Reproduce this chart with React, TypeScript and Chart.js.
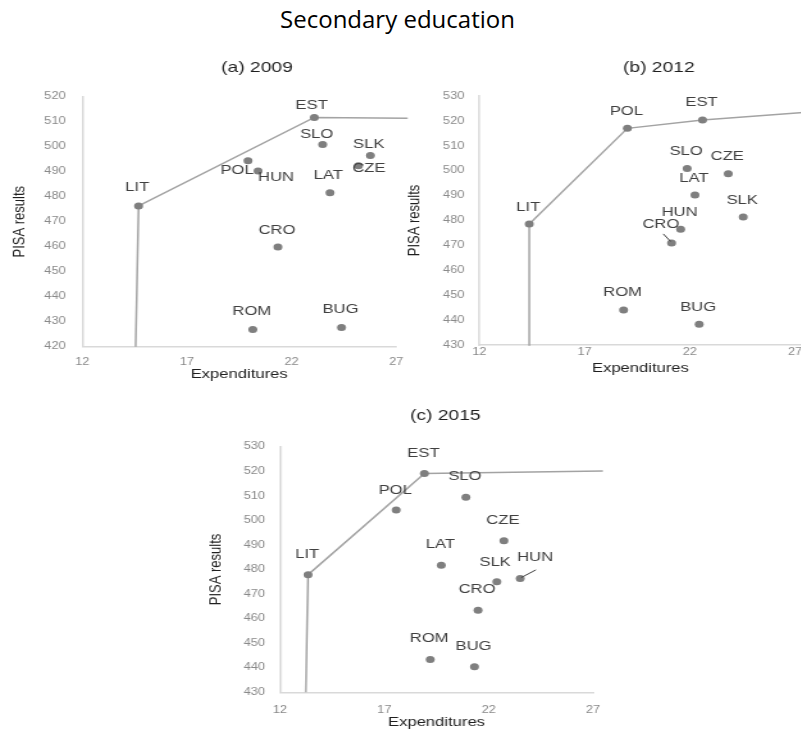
import React, { useEffect, useRef } from 'react';
import { Chart, registerables } from 'chart.js';

Chart.register(...registerables);

// ---------------- data ----------------
const mainTitle = 'Secondary education';
const xAxisTitle = 'Expenditures';
const yAxisTitle = 'PISA results';

const xTickValues = [12, 17, 22, 27];
const yTickValuesA = [420, 430, 440, 450, 460, 470, 480, 490, 500, 510, 520];
const yTickValuesBC = [430, 440, 450, 460, 470, 480, 490, 500, 510, 520, 530];

// (a) 2009
const countriesA = ['LIT', 'EST', 'SLO', 'SLK', 'CZE', 'POL', 'HUN', 'LAT', 'CRO', 'ROM', 'BUG'];
const expendA = [14.69, 23.09, 23.49, 25.77, 25.2, 19.92, 20.4, 23.84, 21.35, 20.15, 24.39];
const pisaA = [476.3, 511.7, 500.9, 496.5, 492.4, 494.4, 490.3, 481.6, 459.9, 426.9, 427.7];
const frontierExpA = [14.55, 14.69, 23.09, 27.55];
const frontierPisaA = [420, 476.3, 511.7, 511.4];

// (b) 2012
const countriesB = ['LIT', 'POL', 'EST', 'SLO', 'CZE', 'LAT', 'SLK', 'HUN', 'CRO', 'ROM', 'BUG'];
const expendB = [14.37, 19.03, 22.6, 21.87, 23.82, 22.24, 24.53, 21.56, 21.13, 18.85, 22.44];
const pisaB = [478.6, 517.0, 520.4, 500.9, 498.8, 490.2, 481.4, 476.5, 471.0, 444.1, 438.3];
const frontierExpB = [14.42, 14.37, 19.03, 22.6, 27.7];
const frontierPisaB = [430, 478.6, 517.0, 520.4, 523.6];

// (c) 2015
const countriesC = ['LIT', 'EST', 'POL', 'SLO', 'CZE', 'LAT', 'SLK', 'HUN', 'CRO', 'ROM', 'BUG'];
const expendC = [13.35, 18.92, 17.57, 20.91, 22.73, 19.73, 22.39, 23.51, 21.49, 19.2, 21.32];
const pisaC = [477.9, 519.1, 504.2, 509.4, 491.7, 481.7, 475.0, 476.3, 463.4, 443.4, 440.4];
const frontierExpC = [13.24, 13.35, 18.92, 27.47];
const frontierPisaC = [430, 477.9, 519.1, 520.1];

// ---------------- styling / layout ----------------
const SX = 1.28; // horizontal stretch of the original figure
const FONT = '"Liberation Sans", Arial, sans-serif';
const POINT_COLOR = '#7f7f7f';
const LINE_COLOR = '#a3a3a3';
const AXIS_COLOR = '#d9d9d9';
const TICK_COLOR = '#8a8a8a';
const TEXT_COLOR = '#404040';
const TITLE_COLOR = '#1f1f1f';

type Panel = {
  title: string;
  countries: string[];
  xs: number[];
  ys: number[];
  fx: number[];
  fy: number[];
  yTicks: number[];
  left: number;
  top: number;
  w: number;
  h: number;
  padTop: number;
  padRight: number;
  yW: number;
  xH: number;
  yMin: number;
  yMax: number;
  xMax: number;
  yTickPad: number;
  xTickPad: number;
  yTitlePad: number;
  titleX: number;
  titleY: number;
  labelDefault: [number, number];
  labelOffsets: Record<string, [number, number]>;
  leaders: Record<string, [number, number, number, number]>;
};

const panels: Panel[] = [
  {
    title: '(a) 2009',
    countries: countriesA, xs: expendA, ys: pisaA, fx: frontierExpA, fy: frontierPisaA, yTicks: yTickValuesA,
    left: 0, top: 60, w: 325, h: 322, padTop: 36.7, padRight: 13.8, yW: 64.3, xH: 35.3,
    yMin: 420, yMax: 520, xMax: 27, yTickPad: 13, xTickPad: 10, yTitlePad: 7.8,
    titleX: 200.8, titleY: 8,
    labelDefault: [-1, -18],
    labelOffsets: {
      EST: [-2.7, -12],
      SLO: [-6, -10],
      SLK: [-1.6, -11],
      CZE: [10.5, 3],
      POL: [-11, 10],
      HUN: [18, 6.7],
      LAT: [-1.7, -17.7],
      CRO: [-1, -17],
      LIT: [-1.3, -18.7],
    },
    leaders: {},
  },
  {
    title: '(b) 2012',
    countries: countriesB, xs: expendB, ys: pisaB, fx: frontierExpB, fy: frontierPisaB, yTicks: yTickValuesBC,
    left: 400, top: 60, w: 322, h: 316, padTop: 36, padRight: 8.2, yW: 62.0, xH: 31,
    yMin: 430, yMax: 530, xMax: 27.3, yTickPad: 11.7, xTickPad: 1.7, yTitlePad: 3.9,
    titleX: 202.3, titleY: 8.3,
    labelDefault: [-1, -17],
    labelOffsets: {
      CRO: [-10.7, -18],
    },
    leaders: {
      CRO: [-8.3, -9, -1, -1.5],
    },
  },
  {
    title: '(c) 2015',
    countries: countriesC, xs: expendC, ys: pisaC, fx: frontierExpC, fy: frontierPisaC, yTicks: yTickValuesBC,
    left: 190, top: 400, w: 333, h: 330, padTop: 46.7, padRight: 11.4, yW: 70.3, xH: 37.7,
    yMin: 430, yMax: 530, xMax: 27, yTickPad: 11.7, xTickPad: 12.4, yTitlePad: 12.5,
    titleX: 199.6, titleY: 16,
    labelDefault: [-1, -20.5],
    labelOffsets: {
      HUN: [15, -21],
      POL: [-1, -19.3],
      SLK: [-1.7, -19.3],
    },
    leaders: {
      HUN: [1, -1, 15.7, -8.7],
    },
  },
];

function makeLabelPlugin(p: Panel) {
  return {
    id: 'pointLabels',
    afterDatasetsDraw(chart: any) {
      const ctx = chart.ctx as CanvasRenderingContext2D;
      const meta = chart.getDatasetMeta(0);
      ctx.save();
      // leaders
      ctx.strokeStyle = TEXT_COLOR;
      ctx.lineWidth = 1;
      p.countries.forEach((c, i) => {
        const el = meta.data[i];
        if (!el) return;
        const ld = p.leaders[c];
        if (ld) {
          ctx.beginPath();
          ctx.moveTo(el.x + ld[0] / SX, el.y + ld[1]);
          ctx.lineTo(el.x + ld[2] / SX, el.y + ld[3]);
          ctx.stroke();
        }
      });
      // labels
      ctx.font = `13px ${FONT}`;
      ctx.fillStyle = TEXT_COLOR;
      ctx.textAlign = 'center';
      ctx.textBaseline = 'middle';
      p.countries.forEach((c, i) => {
        const el = meta.data[i];
        if (!el) return;
        const off = p.labelOffsets[c] || p.labelDefault;
        ctx.fillText(c, el.x + off[0] / SX, el.y + off[1]);
      });
      // panel title
      ctx.font = `15px ${FONT}`;
      ctx.fillStyle = TITLE_COLOR;
      ctx.fillText(p.title, p.titleX, p.titleY);
      ctx.restore();
    },
  };
}

function buildConfig(p: Panel): any {
  const points = p.xs.map((x, i) => ({ x, y: p.ys[i] }));
  const frontier = p.fx.map((x, i) => ({ x, y: p.fy[i] }));
  return {
    type: 'scatter',
    data: {
      datasets: [
        {
          label: 'countries',
          data: points,
          backgroundColor: POINT_COLOR,
          borderColor: POINT_COLOR,
          borderWidth: 0,
          pointRadius: 3.5,
          pointHoverRadius: 3.5,
        },
        {
          label: 'frontier',
          data: frontier,
          showLine: true,
          borderColor: LINE_COLOR,
          backgroundColor: LINE_COLOR,
          borderWidth: 1.5,
          pointRadius: 0,
          pointHoverRadius: 0,
          tension: 0,
          fill: false,
          clip: false,
        },
      ],
    },
    options: {
      responsive: false,
      animation: false,
      devicePixelRatio: 1,
      events: [],
      layout: { padding: { top: p.padTop, right: p.padRight, bottom: 0, left: 0 } },
      plugins: {
        legend: { display: false },
        tooltip: { enabled: false },
        title: { display: false },
      },
      scales: {
        x: {
          type: 'linear',
          position: 'bottom',
          min: 12,
          max: p.xMax,
          afterBuildTicks: (s: any) => {
            s.ticks = xTickValues.map((v) => ({ value: v }));
          },
          ticks: {
            padding: p.xTickPad,
            color: TICK_COLOR,
            font: { family: FONT, size: 10 },
            maxRotation: 0,
            autoSkip: false,
          },
          grid: { display: false, drawTicks: false },
          border: { display: true, color: AXIS_COLOR, width: 1.5 },
          title: {
            display: true,
            text: xAxisTitle,
            color: TITLE_COLOR,
            font: { family: FONT, size: 13 },
            padding: { top: 0, bottom: 0 },
          },
          afterFit: (s: any) => {
            s.height = p.xH;
          },
        },
        y: {
          type: 'linear',
          position: 'left',
          min: p.yMin,
          max: p.yMax,
          afterBuildTicks: (s: any) => {
            s.ticks = p.yTicks.map((v) => ({ value: v }));
          },
          ticks: {
            padding: p.yTickPad,
            color: TICK_COLOR,
            font: { family: FONT, size: 10 },
            autoSkip: false,
          },
          grid: { display: false, drawTicks: false },
          border: { display: true, color: AXIS_COLOR, width: 1.5 },
          title: {
            display: true,
            text: yAxisTitle,
            color: TITLE_COLOR,
            font: { family: FONT, size: 13 },
            padding: { top: p.yTitlePad, bottom: 0 },
          },
          afterFit: (s: any) => {
            s.width = p.yW;
          },
        },
      },
    },
    plugins: [makeLabelPlugin(p)],
  };
}

function PanelChart({ p }: { p: Panel }) {
  const ref = useRef<HTMLCanvasElement>(null);
  useEffect(() => {
    if (!ref.current) return;
    const chart = new Chart(ref.current, buildConfig(p));
    return () => chart.destroy();
  }, [p]);
  return (
    <canvas
      ref={ref}
      width={p.w}
      height={p.h}
      style={{
        position: 'absolute',
        left: p.left,
        top: p.top,
        width: `${p.w * SX}px`,
        height: `${p.h}px`,
      }}
    />
  );
}

export default function App() {
  return (
    <div
      style={{
        position: 'fixed',
        left: 0,
        top: 0,
        width: 801,
        height: 730,
        overflow: 'hidden',
        background: '#ffffff',
      }}
    >
      <div
        style={{
          position: 'absolute',
          left: -3,
          top: 3,
          width: 801,
          textAlign: 'center',
          fontFamily: '"Open Sans", "Noto Sans", sans-serif',
          fontSize: 24,
          lineHeight: '32px',
          color: '#000000',
        }}
      >
        {mainTitle}
      </div>
      {panels.map((p) => (
        <PanelChart key={p.title} p={p} />
      ))}
    </div>
  );
}
